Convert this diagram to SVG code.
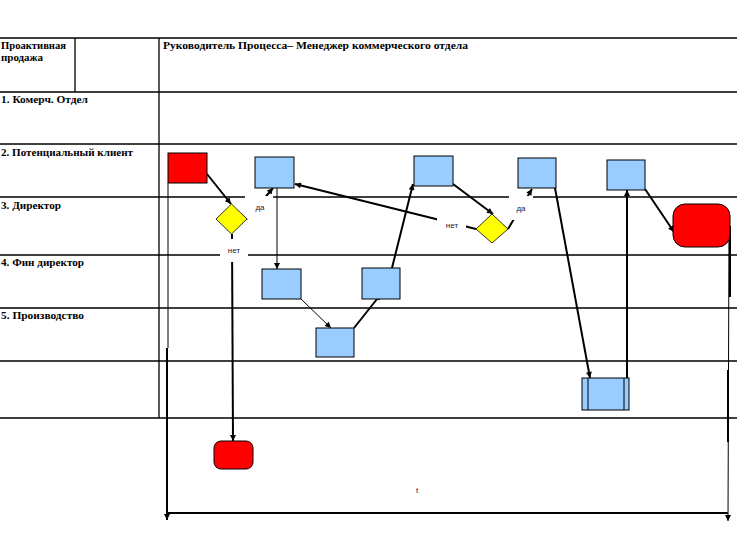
<svg xmlns="http://www.w3.org/2000/svg" width="747" height="560" viewBox="0 0 747 560">
<style>
.grid{stroke:#000;stroke-width:1.3;fill:none}
.hdr{font-family:"Liberation Serif","Times New Roman",serif;font-weight:bold;font-size:10px;fill:#000}
.lbl{font-family:"Liberation Sans",Arial,sans-serif;font-size:8px;fill:#1a1a3a;text-anchor:middle}
.proc{fill:#99CCFF;stroke:#000;stroke-width:1}
.red{fill:#FF0000;stroke:#000;stroke-width:1}
.dec{fill:#FFFF00;stroke:#000;stroke-width:0.8}
.c{stroke:#000;fill:none;stroke-width:2}
.c1{stroke:#000;fill:none;stroke-width:1}
.bg{fill:#fff;stroke:none}
</style>
<defs>
<marker id="ah" viewBox="0 0 10 10" refX="10" refY="5" markerWidth="7" markerHeight="6" markerUnits="userSpaceOnUse" orient="auto">
<path d="M0,0 L10,5 L0,10 z" fill="#000"/>
</marker>
</defs>
<rect width="747" height="560" fill="#fff"/>
<g id="table">
<path class="grid" d="M0,38H737 M0,92H737 M0,144H737 M0,197H737 M0,255H737 M0,308H737 M0,361H737 M0,418H737 M75,38V92 M159,38V418"/>
<text class="hdr" x="1" y="49" textLength="65" lengthAdjust="spacingAndGlyphs">Проактивная</text>
<text class="hdr" x="1" y="61" textLength="42" lengthAdjust="spacingAndGlyphs">продажа</text>
<text class="hdr" x="163" y="49" textLength="305" lengthAdjust="spacingAndGlyphs">Руководитель Процесса– Менеджер коммерческого отдела</text>
<text class="hdr" x="1" y="103" textLength="87" lengthAdjust="spacingAndGlyphs">1. Комерч. Отдел</text>
<text class="hdr" x="1" y="156" textLength="132" lengthAdjust="spacingAndGlyphs">2. Потенциальный клиент</text>
<text class="hdr" x="1" y="209" textLength="60" lengthAdjust="spacingAndGlyphs">3. Директор</text>
<text class="hdr" x="1" y="266" textLength="83" lengthAdjust="spacingAndGlyphs">4. Фин директор</text>
<text class="hdr" x="1" y="319" textLength="83" lengthAdjust="spacingAndGlyphs">5. Производство</text>
</g>
<g id="connectors">
<line class="c" x1="207" y1="174" x2="231" y2="204" marker-end="url(#ah)"/>
<line class="c" x1="247" y1="219" x2="273" y2="188" marker-end="url(#ah)"/>
<line class="c" x1="232" y1="234" x2="233" y2="441" stroke-width="2.5" marker-end="url(#ah)"/>
<line class="c1" x1="277" y1="188" x2="277" y2="269" marker-end="url(#ah)"/>
<line class="c1" x1="301" y1="299" x2="331" y2="328" stroke-width="1.3" marker-end="url(#ah)"/>
<line class="c" x1="354" y1="328" x2="381" y2="294" marker-end="url(#ah)"/>
<line class="c" x1="392" y1="268" x2="413" y2="184" marker-end="url(#ah)"/>
<line class="c" x1="453" y1="184" x2="493" y2="214" marker-end="url(#ah)"/>
<line class="c" x1="476" y1="229" x2="295" y2="184" marker-end="url(#ah)"/>
<line class="c" x1="508" y1="229" x2="532" y2="189" marker-end="url(#ah)"/>
<line class="c" x1="555" y1="188" x2="590" y2="378" marker-end="url(#ah)"/>
<line class="c" x1="627" y1="378" x2="627" y2="190" stroke-width="2.5" marker-end="url(#ah)"/>
<line class="c" x1="645" y1="189" x2="674" y2="232" marker-end="url(#ah)"/>
<line class="c1" x1="168" y1="183" x2="168" y2="348"/>
<line class="c" x1="167" y1="348" x2="167" y2="520" stroke-width="2.5" marker-end="url(#ah)"/>
<line class="c1" x1="729" y1="226" x2="728" y2="521" stroke-width="1.5" marker-end="url(#ah)"/>
<line class="c" x1="730" y1="226" x2="730" y2="297" stroke-width="2"/>
<line class="c" x1="728" y1="370" x2="728" y2="442" stroke-width="2"/>
<line class="c" x1="167" y1="513" x2="728" y2="513" stroke-width="1.5"/>
</g>
<g id="labels">
<rect class="bg" x="245" y="196" width="28" height="23"/>
<text class="lbl" x="260" y="210">да</text>
<rect class="bg" x="220" y="239" width="28" height="23"/>
<text class="lbl" x="234" y="253">нет</text>
<rect class="bg" x="437" y="216" width="29" height="16"/>
<text class="lbl" x="452" y="228">нет</text>
<rect class="bg" x="509" y="196" width="24" height="24"/>
<text class="lbl" x="521" y="211">да</text>
<text class="lbl" x="417" y="493">t</text>
</g>
<g id="start"><rect class="red" x="168" y="153" width="39" height="30"/></g>
<g id="dec1"><polygon class="dec" points="231.5,204 247,219 231.5,234 216,219"/></g>
<g id="dec2"><polygon class="dec" points="492,214 508,229 492,243 476,229"/></g>
<g id="p1"><rect class="proc" x="255" y="157" width="39" height="31"/></g>
<g id="p2"><rect class="proc" x="414" y="156" width="39" height="30"/></g>
<g id="p3"><rect class="proc" x="518" y="158" width="38" height="30"/></g>
<g id="p4"><rect class="proc" x="607" y="160" width="38" height="30"/></g>
<g id="p5"><rect class="proc" x="262" y="269" width="39" height="30"/></g>
<g id="p6"><rect class="proc" x="362" y="268" width="38" height="31"/></g>
<g id="p7"><rect class="proc" x="316" y="328" width="38" height="29"/></g>
<g id="p8"><rect class="proc" x="582" y="378" width="47" height="32"/><path d="M588,378V410 M624,378V410" stroke="#000" stroke-width="1"/></g>
<g id="end1"><rect class="red" x="214" y="441" width="39" height="28" rx="7" ry="7"/></g>
<g id="end2"><rect class="red" x="673" y="204" width="57" height="43" rx="12" ry="12"/></g>
</svg>
